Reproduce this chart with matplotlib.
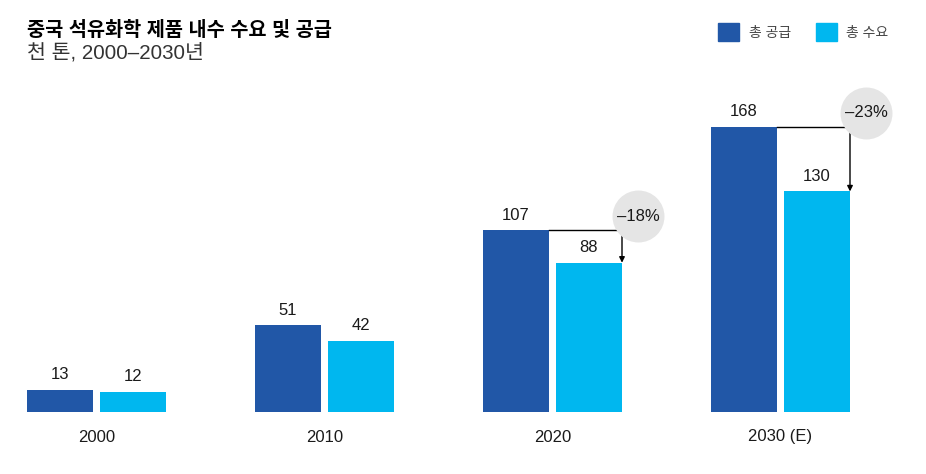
import numpy as np
import matplotlib
matplotlib.use('Agg')
import matplotlib.pyplot as plt
from matplotlib.patches import Patch

plt.rcParams['font.family'] = ['Liberation Sans', 'Noto Sans CJK KR', 'DejaVu Sans']

# 데이터
years = ['2000', '2010', '2020', '2030 (E)']
supply = [13, 51, 107, 168]
demand = [12, 42, 88, 130]
gap_labels = [None, None, '–18%', '–23%']

c_supply = '#2157a7'
c_demand = '#00b7ef'
txt = '#1a1a1a'

fig = plt.figure(figsize=(9.26, 4.74), dpi=100)
ax = fig.add_axes([0, 62 / 474, 1, 412 / 474])
px_per_unit = 285 / 168
ax.set_ylim(0, 412 / px_per_unit)
ax.set_xlim(-96.5 / 228, (926 - 96.5) / 228)
ax.axis('off')

x = np.arange(len(years))
w = 66 / 228
off = 36.5 / 228
ax.bar(x - off, supply, w, color=c_supply, zorder=2)
ax.bar(x + off, demand, w, color=c_demand, zorder=2)

for i in range(len(years)):
    ax.annotate(str(supply[i]), (x[i] - off, supply[i]), xytext=(0, 11), textcoords='offset points',
                ha='center', va='center', fontsize=12, color=txt)
    ax.annotate(str(demand[i]), (x[i] + off, demand[i]), xytext=(0, 11), textcoords='offset points',
                ha='center', va='center', fontsize=12, color=txt)
    ax.annotate(years[i], (x[i], 0), xytext=(0, -18), textcoords='offset points',
                ha='center', va='center', fontsize=12, color=txt)

    if gap_labels[i]:
        ax_x = x[i] + off + w / 2
        ax.plot([x[i] - off + w / 2, ax_x], [supply[i], supply[i]], color='black', lw=1, zorder=3)
        ax.annotate('', xy=(ax_x, demand[i]), xytext=(ax_x, supply[i]),
                    arrowprops=dict(arrowstyle='-|>', color='black', lw=1, mutation_scale=8,
                                    shrinkA=0, shrinkB=0), zorder=3)
        cx = ax_x + 16 / 228
        cy = supply[i] + 8.5
        ax.scatter([cx], [cy], s=1400, color='#e5e5e5', zorder=4, linewidths=0)
        ax.text(cx, cy, gap_labels[i], ha='center', va='center', fontsize=12, color=txt, zorder=5)

fig.text(27 / 926, 1 - 31 / 474, '중국 석유화학 제품 내수 수요 및 공급', fontsize=14.2, fontweight='bold',
         ha='left', va='center', color='black')
fig.text(27 / 926, 1 - 53 / 474, '천 톤, 2000–2030년', fontsize=14.8, ha='left', va='center', color='#333333')

handles = [Patch(color=c_supply, label='총 공급'), Patch(color=c_demand, label='총 수요')]
fig.legend(handles=handles, loc='center right', bbox_to_anchor=(901 / 926, 1 - 32 / 474), ncol=2,
           frameon=False, fontsize=10, handlelength=1.5, handleheight=1.6, handletextpad=0.7,
           columnspacing=1.8, labelcolor='#444444')

fig.savefig('out.png', dpi=100)
